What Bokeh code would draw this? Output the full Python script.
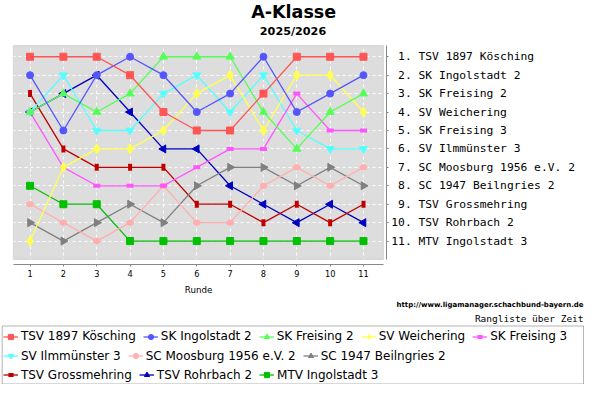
import math
from bokeh.plotting import figure
from bokeh.models import Range1d, FixedTicker, BoxAnnotation, Legend, LegendItem, Label
from bokeh.embed import file_html
from bokeh.resources import INLINE

# ---------------- data ----------------
rounds = [1, 2, 3, 4, 5, 6, 7, 8, 9, 10, 11]

team_names = [
    "TSV 1897 Kösching", "SK Ingolstadt 2", "SK Freising 2", "SV Weichering",
    "SK Freising 3", "SV Ilmmünster 3", "SC Moosburg 1956 e.V. 2",
    "SC 1947 Beilngries 2", "TSV Grossmehring", "TSV Rohrbach 2", "MTV Ingolstadt 3",
]

rank_koesching = [1, 1, 1, 2, 4, 5, 5, 3, 1, 1, 1]
rank_ingolstadt2 = [2, 5, 2, 1, 2, 4, 3, 1, 4, 3, 2]
rank_freising2 = [4, 3, 4, 3, 1, 1, 1, 4, 6, 4, 3]
rank_weichering = [11, 7, 6, 6, 5, 3, 2, 5, 2, 2, 4]
rank_freising3 = [4, 7, 8, 8, 8, 7, 6, 6, 3, 5, 5]
rank_ilmmuenster3 = [4, 2, 5, 5, 3, 2, 4, 2, 5, 6, 6]
rank_moosburg2 = [9, 10, 11, 10, 8, 10, 10, 8, 7, 8, 7]
rank_beilngries2 = [10, 11, 10, 9, 10, 8, 7, 7, 8, 7, 8]
rank_grossmehring = [3, 6, 7, 7, 7, 9, 9, 10, 9, 10, 9]
rank_rohrbach2 = [4, 3, 2, 4, 6, 6, 8, 9, 10, 9, 10]
rank_mtv3 = [8, 9, 9, 11, 11, 11, 11, 11, 11, 11, 11]

series = [rank_koesching, rank_ingolstadt2, rank_freising2, rank_weichering,
          rank_freising3, rank_ilmmuenster3, rank_moosburg2, rank_beilngries2,
          rank_grossmehring, rank_rohrbach2, rank_mtv3]

colors = ["#FF5555", "#5555FF", "#55FF55", "#FFFF55", "#FF55FF", "#55FFFF",
          "#FFAFAF", "#808080", "#C00000", "#0000C0", "#00C000"]

# marker styles: (kind, marker, size, angle)
marker_styles = [
    ("scatter", "square", 7, 0.0),
    ("scatter", "circle", 7, 0.0),
    ("scatter", "triangle", 8, 0.0),
    ("scatter", "diamond", 10, 0.0),
    ("dash", "dash", 7, 0.0),
    ("scatter", "inverted_triangle", 8, 0.0),
    ("ellipse", "circle", 5, 0.0),
    ("scatter", "triangle", 8, -math.pi / 2),
    ("dash", "dash", 7, math.pi / 2),
    ("scatter", "triangle", 8, math.pi / 2),
    ("scatter", "square", 7, 0.0),
]

final_ticks = [1, 2, 3, 4, 5, 6, 7, 8, 9, 10, 11]
final_labels = [
    "\u00a01. TSV 1897 Kösching", "\u00a02. SK Ingolstadt 2", "\u00a03. SK Freising 2",
    "\u00a04. SV Weichering", "\u00a05. SK Freising 3", "\u00a06. SV Ilmmünster 3",
    "\u00a07. SC Moosburg 1956 e.V. 2", "\u00a08. SC 1947 Beilngries 2",
    "\u00a09. TSV Grossmehring", "10. TSV Rohrbach 2", "11. MTV Ingolstadt 3",
]

title_text = "A-Klasse"
subtitle_text = "2025/2026"
x_label = "Runde"
url_text = "http://www.ligamanager.schachbund-bayern.de"
caption_text = "Rangliste über Zeit"

# ---------------- geometry (pixels of the 584x384 canvas) ----------------
W, H = 584, 384
SX, SY = 0.975, 0.965           # reference -> canvas scale
R1_PX, R_STEP = 30.3 * SX, 34.2 * SX      # x pixel of round 1, px per round
K1_PY, K_STEP = 58.3 * SY, 19.1 * SY      # y pixel of rank 1, px per rank

def xd(px):  # canvas pixel -> data x
    return 1 + (px - R1_PX) / R_STEP

def yd(py):  # canvas pixel (from top) -> data y
    return 1 + (py - K1_PY) / K_STEP

BOX_L, BOX_R = xd(13.3 * SX), xd(392.7 * SX)
BOX_T, BOX_B = yd(46.7 * SY), yd(268.3 * SY)
XAXIS_Y = yd(273.3 * SY)
YAXIS_X = xd(395.7 * SX)

p = figure(frame_width=W, frame_height=H, min_border=0,
           x_range=Range1d(xd(0), xd(W)), y_range=Range1d(yd(H), yd(0)),
           y_axis_location="right", title=None,
           output_backend="svg", toolbar_location=None)
p.outline_line_color = None
p.background_fill_color = "white"
p.border_fill_color = "white"

bg = BoxAnnotation(left=BOX_L, right=BOX_R, top=BOX_T, bottom=BOX_B,
                   fill_color="#DDDDDD", fill_alpha=1.0, line_color=None, level="image")
p.add_layout(bg)
border = BoxAnnotation(left=BOX_L, right=BOX_R, top=BOX_T, bottom=BOX_B,
                       fill_alpha=0.0, fill_color=None, line_color="#A8A8A8",
                       line_width=1.2, level="underlay")
p.add_layout(border)

# frame around the legend rows
legend_box = BoxAnnotation(left=xd(1.7 * SX), right=xd(598.0 * SX),
                           top=yd(337.3 * SY), bottom=yd(H - 0.5),
                           fill_alpha=0.0, fill_color=None, line_color="black",
                           line_width=1, level="underlay")
p.add_layout(legend_box)

for g in (p.xgrid[0], p.ygrid[0]):
    g.grid_line_color = "white"
    g.grid_line_alpha = 0.9
    g.grid_line_dash = "3 3"
    g.grid_line_width = 1
p.xgrid[0].ticker = FixedTicker(ticks=rounds)
p.ygrid[0].ticker = FixedTicker(ticks=final_ticks)

xa = p.xaxis[0]
xa.fixed_location = XAXIS_Y
xa.ticker = FixedTicker(ticks=rounds)
xa.bounds = (BOX_L, BOX_R)
xa.axis_line_color = "#888888"
xa.major_tick_line_color = "#888888"
xa.major_tick_out = 2
xa.major_tick_in = 0
xa.minor_tick_line_color = None
xa.major_label_text_font = "DejaVu Sans"
xa.major_label_text_font_size = "8.2px"
xa.major_label_text_color = "black"
xa.major_label_standoff = 4
xa.axis_label = x_label
xa.axis_label_text_font = "DejaVu Sans"
xa.axis_label_text_font_size = "8.7px"
xa.axis_label_text_font_style = "normal"
xa.axis_label_text_color = "black"
xa.axis_label_standoff = 4

ya = p.yaxis[0]
ya.fixed_location = YAXIS_X
ya.ticker = FixedTicker(ticks=final_ticks)
ya.bounds = (BOX_T, BOX_B)
ya.major_label_overrides = {t: l for t, l in zip(final_ticks, final_labels)}
ya.axis_line_color = "#888888"
ya.major_tick_line_color = "#888888"
ya.major_tick_out = 2
ya.major_tick_in = 0
ya.minor_tick_line_color = None
ya.major_label_text_font = "DejaVu Sans Mono"
ya.major_label_text_font_size = "11.3px"
ya.major_label_text_color = "black"
ya.major_label_standoff = 3

# draw in reverse order (last team first), keep renderers for the legend
rend = [None] * len(series)
for i in reversed(range(len(series))):
    ys = series[i]
    c = colors[i]
    kind, mk, sz, ang = marker_styles[i]
    lr = p.line(rounds, ys, line_color=c, line_width=1.3)
    if kind == "scatter":
        mr = p.scatter(rounds, ys, marker=mk, size=sz, angle=ang, fill_color=c, line_color=c)
    elif kind == "dash":
        mr = p.scatter(rounds, ys, marker="dash", size=sz, angle=ang, line_color=c, line_width=4)
    else:
        # small circles (used by the legend), covered by flat ellipses in the plot
        mr = p.scatter(rounds, ys, marker="circle", size=sz, fill_color=c, line_color=c)
        p.ellipse(rounds, ys, width=7, height=5, width_units="screen",
                  height_units="screen", fill_color=c, line_color=c)
    rend[i] = (lr, mr)

def add_label(text, px, py, size, font="DejaVu Sans", style="normal", align="center"):
    p.add_layout(Label(x=xd(px), y=yd(py), text=text,
                       text_font=font, text_font_size=size, text_font_style=style,
                       text_align=align, text_baseline="middle", text_color="black"))

add_label(title_text, 300.7 * SX, 12.3 * SY, "17.5px", style="bold")
add_label(subtitle_text, 300.0 * SX, 31.7 * SY, "11.2px", style="bold")
add_label(url_text, 598.0 * SX, 315.7 * SY, "7.0px", style="bold", align="right")
add_label(caption_text, 598.0 * SX, 329.3 * SY, "9.5px", font="DejaVu Sans Mono", align="right")

# legend: three horizontal rows inside the black frame
items = [LegendItem(label=team_names[i], renderers=list(rend[i])) for i in range(len(series))]
rows = [items[0:5], items[5:8], items[8:11]]
row_centers = [347.3 * SY, 367.7 * SY, 387.3 * SY]
for its, cy in zip(rows, row_centers):
    leg = Legend(items=its, orientation="horizontal",
                 location=(5.0 * SX - 2, H - (cy + 8.5)),
                 padding=2, margin=0, spacing=7, glyph_width=15, glyph_height=13,
                 label_height=15, label_standoff=3,
                 label_text_font="DejaVu Sans", label_text_font_size="12px",
                 label_text_color="black", border_line_color=None,
                 background_fill_alpha=0.0)
    p.add_layout(leg)

open("out.html", "w").write(file_html(p, INLINE))
